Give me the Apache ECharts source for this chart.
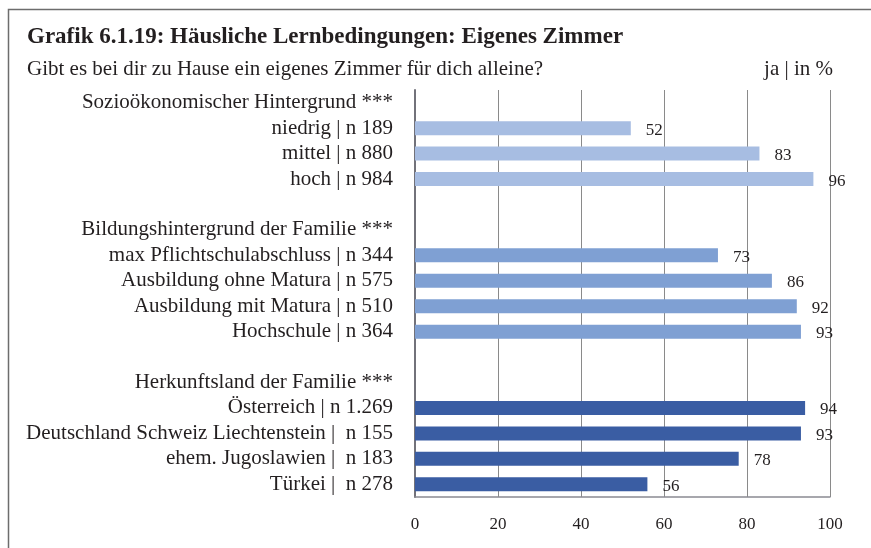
<!DOCTYPE html>
<html>
<head>
<meta charset="utf-8">
<script src="https://cdn.jsdelivr.net/npm/echarts@6/dist/echarts.min.js"></script>
<style>
html,body{margin:0;padding:0;background:#fff;}
#chart{width:871px;height:548px;}
</style>
</head>
<body>
<div id="chart"></div>
<script>
// rows from top to bottom, '' = spacer row
var categories = [
	'Sozioökonomischer Hintergrund ***',
	'niedrig | n 189',
	'mittel | n 880',
	'hoch | n 984',
	'',
	'Bildungshintergrund der Familie ***',
	'max Pflichtschulabschluss | n 344',
	'Ausbildung ohne Matura | n 575',
	'Ausbildung mit Matura | n 510',
	'Hochschule | n 364',
	' ',
	'Herkunftsland der Familie ***',
	'Österreich | n 1.269',
	'Deutschland Schweiz Liechtenstein |  n 155',
	'ehem. Jugoslawien |  n 183',
	'Türkei |  n 278'
];
var values = [null, 52, 83, 96, null, null, 73, 86, 92, 93, null, null, 94, 93, 78, 56];
var groups = [0, 0, 0, 0, 0, 1, 1, 1, 1, 1, 1, 2, 2, 2, 2, 2];
var xTicks = [0, 20, 40, 60, 80, 100];

var groupColors = ['#A7BDE2', '#7FA0D3', '#3A5DA3'];
var font = '"Liberation Serif", "DejaVu Serif", serif';
var txt = '#231f20';

var barData = [];
for (var i = 0; i < values.length; i++) {
	barData.push({
		value: values[i] == null ? '-' : values[i],
		itemStyle: { color: groupColors[groups[i]] }
	});
}

var myChart = echarts.init(document.getElementById('chart'));
myChart.setOption({
	backgroundColor: '#fff',
	animation: false,
	title: [{
		text: 'Grafik 6.1.19: Häusliche Lernbedingungen: Eigenes Zimmer',
		left: 22, top: 21,
		textStyle: { fontFamily: font, fontSize: 23, fontWeight: 'bold', color: txt }
	}, {
		text: 'Gibt es bei dir zu Hause ein eigenes Zimmer für dich alleine?',
		left: 22, top: 54,
		textStyle: { fontFamily: font, fontSize: 21, fontWeight: 'normal', color: txt }
	}, {
		text: 'ja | in %',
		right: 33, top: 54,
		textStyle: { fontFamily: font, fontSize: 21, fontWeight: 'normal', color: txt }
	}],
	graphic: [{
		type: 'polyline',
		shape: { points: [[8.5, 548], [8.5, 9.5], [871, 9.5]] },
		style: { stroke: '#6d6d6d', lineWidth: 1.5, fill: null }
	}],
	grid: { left: 415, right: 41, top: 90, bottom: 51, containLabel: false },
	xAxis: {
		type: 'value',
		min: 0, max: 100, interval: 20,
		axisLine: { show: true, lineStyle: { color: '#8a8a92', width: 1.5 } },
		axisTick: { show: false },
		splitLine: { show: true, lineStyle: { color: '#8a8a8a', width: 1 } },
		axisLabel: {
			margin: 19,
			fontFamily: font, fontSize: 17, color: txt,
			formatter: function (v) { return xTicks.indexOf(v) >= 0 ? String(v) : ''; }
		}
	},
	yAxis: {
		type: 'category',
		inverse: true,
		data: categories,
		axisLine: { show: true, lineStyle: { color: '#72727a', width: 2 } },
		axisTick: { show: false },
		splitLine: { show: false },
		axisLabel: {
			interval: 0,
			margin: 22,
			padding: [3, 0, 0, 0],
			fontFamily: font, fontSize: 21, color: txt
		}
	},
	series: [{
		type: 'bar',
		data: barData,
		barWidth: 14,
		label: {
			show: true,
			position: 'right',
			distance: 15,
			offset: [0, 2],
			fontFamily: font, fontSize: 17, color: txt
		}
	}]
});
</script>
</body>
</html>
